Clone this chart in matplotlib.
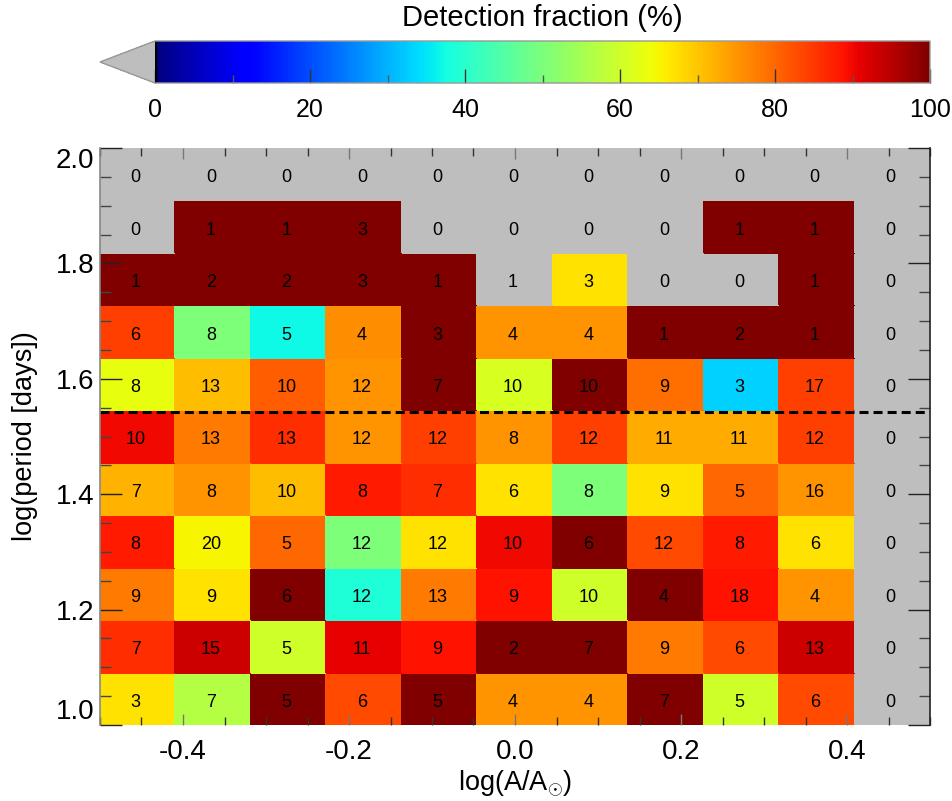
import numpy as np
import matplotlib
matplotlib.use("Agg")
import matplotlib.pyplot as plt
from matplotlib.ticker import MultipleLocator, FixedLocator

plt.rcParams['font.family'] = ['Liberation Sans', 'DejaVu Sans']
plt.rcParams['mathtext.fontset'] = 'custom'
plt.rcParams['mathtext.rm'] = 'Liberation Sans'

# ---- data (rows from bottom y=1.0 to top y=2.0; columns from x=-0.5 to 0.5)
x_edges = np.linspace(-0.5, 0.5, 12)
y_edges = np.linspace(1.0, 2.0, 12)

counts_r0 = [3, 7, 5, 6, 5, 4, 4, 7, 5, 6, 0]
counts_r1 = [7, 15, 5, 11, 9, 2, 7, 9, 6, 13, 0]
counts_r2 = [9, 9, 6, 12, 13, 9, 10, 4, 18, 4, 0]
counts_r3 = [8, 20, 5, 12, 12, 10, 6, 12, 8, 6, 0]
counts_r4 = [7, 8, 10, 8, 7, 6, 8, 9, 5, 16, 0]
counts_r5 = [10, 13, 13, 12, 12, 8, 12, 11, 11, 12, 0]
counts_r6 = [8, 13, 10, 12, 7, 10, 10, 9, 3, 17, 0]
counts_r7 = [6, 8, 5, 4, 3, 4, 4, 1, 2, 1, 0]
counts_r8 = [1, 2, 2, 3, 1, 1, 3, 0, 0, 1, 0]
counts_r9 = [0, 1, 1, 3, 0, 0, 0, 0, 1, 1, 0]
counts_r10 = [0, 0, 0, 0, 0, 0, 0, 0, 0, 0, 0]

frac_r0 = [67, 57, 100, 83, 100, 75, 75, 100, 60, 83, 0]
frac_r1 = [86, 93, 60, 91, 89, 100, 100, 78, 83, 93, 0]
frac_r2 = [78, 67, 100, 39, 78, 89, 60, 100, 89, 75, 0]
frac_r3 = [88, 65, 80, 50, 67, 90, 100, 83, 88, 67, 0]
frac_r4 = [72, 75, 71, 88, 86, 67, 50, 67, 80, 75, 0]
frac_r5 = [90, 78, 86, 75, 84, 75, 84, 73, 73, 84, 0]
frac_r6 = [63, 71, 81, 75, 100, 61, 100, 79, 33, 84, 0]
frac_r7 = [84, 50, 37, 76, 100, 75, 75, 100, 100, 100, 0]
frac_r8 = [100, 100, 100, 100, 100, 0, 67, 0, 0, 100, 0]
frac_r9 = [0, 100, 100, 100, 0, 0, 0, 0, 100, 100, 0]
frac_r10 = [0, 0, 0, 0, 0, 0, 0, 0, 0, 0, 0]

cut_line = 1.543

counts = np.array([counts_r0, counts_r1, counts_r2, counts_r3, counts_r4, counts_r5,
                   counts_r6, counts_r7, counts_r8, counts_r9, counts_r10])
frac = np.array([frac_r0, frac_r1, frac_r2, frac_r3, frac_r4, frac_r5,
                 frac_r6, frac_r7, frac_r8, frac_r9, frac_r10], dtype=float)

W, H = 953, 801
fig = plt.figure(figsize=(W / 100, H / 100), dpi=100)

ax = fig.add_axes([100 / W, 1 - 725 / H, 830 / W, 577 / H])

cmap = plt.get_cmap('jet').copy()
cmap.set_under('#bebebe')
plot_vals = np.where(frac > 0, frac, -1.0)
mesh = ax.pcolormesh(x_edges, y_edges, plot_vals, cmap=cmap, vmin=0, vmax=100,
                     shading='flat', edgecolors='face', linewidth=0.3)

xc = 0.5 * (x_edges[:-1] + x_edges[1:])
yc = 0.5 * (y_edges[:-1] + y_edges[1:])
for i, yv in enumerate(yc):
    for j, xv in enumerate(xc):
        ax.annotate(str(counts[i, j]), (xv, yv), xytext=(-1.5, -2.5), textcoords='offset points',
                    ha='center', va='center', fontsize=13, color='black')

ax.axhline(cut_line, color='black', lw=2.2, ls=(0, (2.95, 1.65)))

ax.set_xlim(-0.5, 0.5)
ax.set_ylim(1.0, 2.0)

ax.xaxis.set_major_locator(FixedLocator([-0.4, -0.2, 0.0, 0.2, 0.4]))
ax.xaxis.set_minor_locator(MultipleLocator(0.05))
ax.yaxis.set_major_locator(FixedLocator([1.0, 1.2, 1.4, 1.6, 1.8, 2.0]))
ax.yaxis.set_minor_locator(MultipleLocator(0.05))
ax.set_xticklabels(['-0.4', '-0.2', '0.0', '0.2', '0.4'])
ax.set_yticklabels(['1.0', '1.2', '1.4', '1.6', '1.8', '2.0'])

ax.tick_params(axis='x', which='major', direction='in', length=8, width=1, color='#777777',
               top=True, bottom=True, labelsize=20, pad=10)
ax.tick_params(axis='x', which='minor', direction='in', length=6, width=1, color='#333333',
               top=True, bottom=True)
ax.tick_params(axis='y', which='major', direction='in', length=16, width=1, color='#222222',
               left=True, right=True, labelsize=20, pad=4)
ax.tick_params(axis='y', which='minor', direction='in', length=8, width=1, color='#444444',
               left=True, right=True)

ylabels = ax.get_yticklabels()
ylabels[0].set_va('bottom')
ylabels[-1].set_va('top')

for s in ['top', 'bottom']:
    ax.spines[s].set_visible(False)
ax.spines['left'].set_color('#888888')
ax.spines['right'].set_color('#222222')
ax.spines['left'].set_linewidth(1.2)
ax.spines['right'].set_linewidth(1.2)

ax.set_xlabel(r'log(A/A$_{\odot}$)', fontsize=19.5)
ax.set_ylabel('log(period [days])', fontsize=19.5)
ax.xaxis.set_label_coords(0.5, -0.076)
ax.yaxis.set_label_coords(-0.075, 0.5)

# ---- colorbar
cax = fig.add_axes([100 / W, 1 - 83 / H, 830 / W, 42 / H])
cb = fig.colorbar(mesh, cax=cax, orientation='horizontal', extend='min', extendfrac=0.071)
cb.outline.set_edgecolor('#999999')
cb.outline.set_linewidth(1.0)
cax.axvline(0, color='black', lw=2.5)
cax.xaxis.set_major_locator(FixedLocator([0, 20, 40, 60, 80, 100]))
cax.xaxis.set_minor_locator(FixedLocator([10, 30, 50, 70, 90]))
cax.tick_params(axis='x', which='major', direction='in', length=10, width=1, color='#333333',
                labelsize=18, pad=11)
cax.tick_params(axis='x', which='minor', direction='in', length=6, width=1, color='#555555')
fig.text(542 / W, 1 - 18 / H, 'Detection fraction (%)', fontsize=21, ha='center', va='center')

fig.savefig('out.png', dpi=100)
